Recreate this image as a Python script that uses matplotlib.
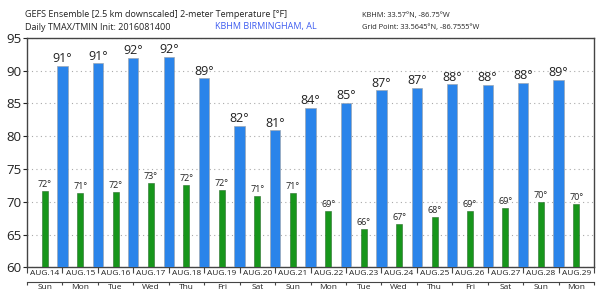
import numpy as np
import matplotlib.pyplot as plt

plt.rcParams.update({
    "font.family": ["Open Sans", "DejaVu Sans"],
    "font.size": 8,
})

# Data
dates = ["AUG.14", "AUG.15", "AUG.16", "AUG.17", "AUG.18", "AUG.19", "AUG.20", "AUG.21",
         "AUG.22", "AUG.23", "AUG.24", "AUG.25", "AUG.26", "AUG.27", "AUG.28", "AUG.29"]
weekdays = ["Sun", "Mon", "Tue", "Wed", "Thu", "Fri", "Sat", "Sun",
            "Mon", "Tue", "Wed", "Thu", "Fri", "Sat", "Sun", "Mon"]
tmin = [71.7, 71.3, 71.5, 72.8, 72.5, 71.8, 70.9, 71.3,
        68.6, 65.9, 66.6, 67.6, 68.6, 69.1, 69.95, 69.7]
tmax = [90.7, 91.1, 91.9, 92.1, 88.8, 81.6, 80.9, 84.3,
        85.05, 87.0, 87.4, 87.9, 87.8, 88.1, 88.55]

blue = "#2a84ea"
green = "#17961b"
row_size = 6.0

fig = plt.figure(figsize=(6.0, 3.0), dpi=100)
ax = fig.add_axes([0.045, 0.109, 0.945, 0.765])

n = len(dates)
x_min = np.arange(n) + 0.5
x_max = np.arange(1, len(tmax) + 1)

base = 60
ax.bar(x_min, np.array(tmin) - base, bottom=base, width=0.17,
       color=green, edgecolor="#2a6e2c", linewidth=0.4, zorder=3)
ax.bar(x_max, np.array(tmax) - base, bottom=base, width=0.29,
       color=blue, edgecolor="#9aa6b4", linewidth=0.5, zorder=3)

for xi, v in zip(x_max, tmax):
    ax.text(xi, v + 0.1, f"{round(v)}°", ha="center", va="bottom",
            fontsize=9, color="#222222", zorder=4)
for xi, v in zip(x_min, tmin):
    ax.text(xi, v + 0.3, f"{round(v)}°", ha="center", va="bottom",
            fontsize=6.5, color="#222222", zorder=4)

ax.set_xlim(0, n)
ax.set_ylim(60, 95)
ax.set_yticks(np.arange(60, 96, 5))
ax.tick_params(axis="y", labelsize=9.5, length=3, pad=1, colors="#222222")
ax.yaxis.grid(True, linestyle=(0, (1, 3)), color="#aaaaaa", linewidth=0.8)
ax.set_axisbelow(True)

# date row
ax.set_xticks(np.arange(0, n + 1))
ax.set_xticklabels([])
ax.set_xticks(x_min, minor=True)
ax.set_xticklabels(dates, minor=True, fontsize=row_size)
ax.tick_params(axis="x", which="major", length=4, direction="out", color="#444444")
ax.tick_params(axis="x", which="minor", length=0, pad=2, colors="#222222")

# weekday row
sec = ax.secondary_xaxis(-0.063)
sec.set_xticks(np.arange(0, n + 1))
sec.set_xticklabels([])
sec.set_xticks(x_min, minor=True)
sec.set_xticklabels(weekdays, minor=True, fontsize=row_size)
sec.tick_params(axis="x", which="major", length=2.5, direction="out", color="#444444")
sec.tick_params(axis="x", which="minor", length=0, pad=1.5, colors="#222222")
sec.spines["bottom"].set_color("#444444")
sec.spines["bottom"].set_linewidth(0.8)

for s in ax.spines.values():
    s.set_color("#444444")
    s.set_linewidth(1.0)

fig.text(0.042, 0.953, "GEFS Ensemble [2.5 km downscaled] 2-meter Temperature [°F]",
         fontsize=6.5, color="#222222", va="center")
fig.text(0.042, 0.91, "Daily TMAX/TMIN Init: 2016081400",
         fontsize=6.5, color="#222222", va="center")
fig.text(0.358, 0.91, "KBHM BIRMINGHAM, AL",
         fontsize=6.5, color="#3d5cf0", va="center")
fig.text(0.603, 0.95, "KBHM: 33.57°N, -86.75°W",
         fontsize=5.3, color="#222222", va="center")
fig.text(0.603, 0.91, "Grid Point: 33.5645°N, -86.7555°W",
         fontsize=5.3, color="#222222", va="center")

fig.savefig("out.png", dpi=100)
